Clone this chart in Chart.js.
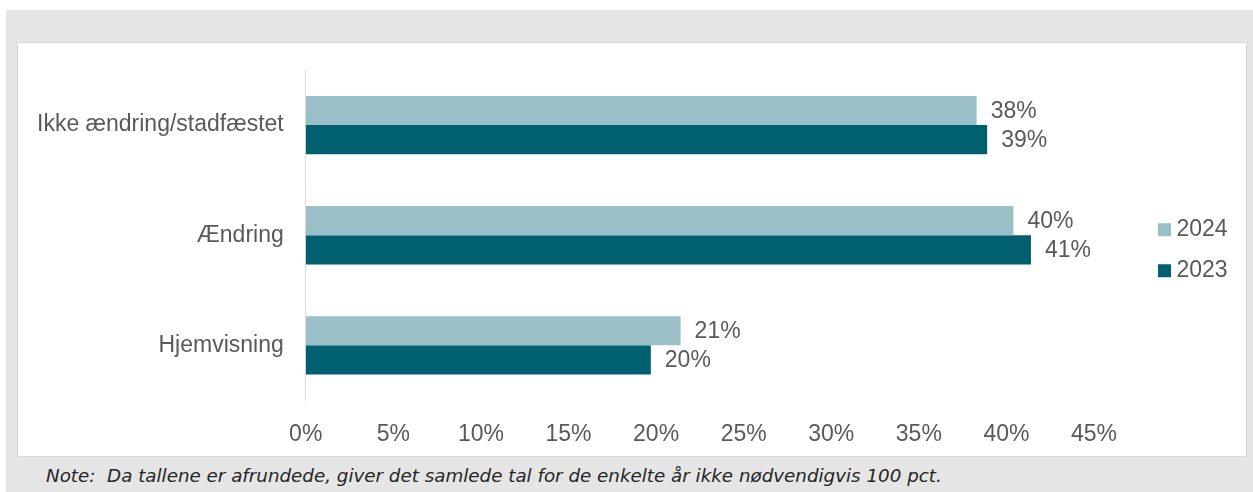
<!doctype html>
<html lang="da">
<head>
  <meta charset="utf-8">
  <title>Afgørelser</title>
  <style>
    html, body { margin: 0; padding: 0; background: #fff; }
    #frame { position: absolute; left: 6px; top: 10px; width: 1247px; height: 482px; background: #e5e5e5; }
    #panel { position: absolute; left: 17px; top: 42px; width: 1230px; height: 415px; background: #fff; border: 1px solid #d6d6d6; box-sizing: border-box; overflow: hidden; }
    #panel canvas { position: absolute; left: 0; top: 0; }
    #note { position: absolute; left: 46px; top: 467px; font: italic 18.3px "DejaVu Sans", Verdana, sans-serif; line-height: 18px; color: #262626; white-space: pre; }
  </style>
</head>
<body>
  <div id="frame"></div>
  <div id="panel"><canvas id="chart" width="1230" height="431"></canvas></div>
  <div id="note">Note:  Da tallene er afrundede, giver det samlede tal for de enkelte år ikke nødvendigvis 100 pct.</div>
  <script src="https://cdn.jsdelivr.net/npm/chart.js"></script>
  <script>
    const categories = ['Ikke ændring/stadfæstet', 'Ændring', 'Hjemvisning'];
    const values2024 = [38.3, 40.4, 21.4];
    const values2023 = [38.9, 41.4, 19.7];
    const xTicks = [0, 5, 10, 15, 20, 25, 30, 35, 40, 45];

    const LIGHT = '#9abfc6';
    const DARK = '#00606f';
    const TEXT = '#595959';
    const FONT = { family: '"Liberation Sans", Arial, sans-serif', size: 23 };
    const LEGEND_SPACE = 154;

    // value labels to the right of every bar
    const barLabels = {
      id: 'barLabels',
      afterDatasetsDraw(chart) {
        const ctx = chart.ctx;
        ctx.save();
        ctx.font = `${FONT.size}px ${FONT.family}`;
        ctx.fillStyle = TEXT;
        ctx.textAlign = 'left';
        ctx.textBaseline = 'middle';
        chart.data.datasets.forEach((ds, i) => {
          chart.getDatasetMeta(i).data.forEach((bar, j) => {
            ctx.fillText(Math.round(ds.data[j]) + '%', bar.x + 14, bar.y + 1);
          });
        });
        ctx.restore();
      }
    };

    // legend reserves a fixed strip on the right and sits a bit away from the plot
    const legendPlace = {
      id: 'legendPlace',
      beforeInit(chart) {
        const lg = chart.legend;
        const fit = lg.fit;
        lg.fit = function () { fit.call(this); this._realWidth = this.width; this.width = LEGEND_SPACE; };
      },
      afterLayout(chart) {
        const lg = chart.legend, area = chart.chartArea;
        lg.left = area.right + 52;
        lg.width = lg._realWidth;
        lg.right = lg.left + lg.width;
        lg.top += 15; lg.bottom += 15;
      }
    };

    new Chart(document.getElementById('chart'), {
      type: 'bar',
      data: {
        labels: categories,
        datasets: [
          { label: '2024', data: values2024, backgroundColor: LIGHT },
          { label: '2023', data: values2023, backgroundColor: DARK }
        ]
      },
      options: {
        indexAxis: 'y',
        responsive: false,
        animation: false,
        barPercentage: 1,
        categoryPercentage: 0.53,
        layout: { padding: { left: -3, top: 27, right: 0, bottom: 6 } },
        plugins: {
          tooltip: { enabled: false },
          legend: {
            position: 'right',
            fullSize: false,
            labels: {
              usePointStyle: true, pointStyle: 'rect',
              boxWidth: 1, boxHeight: 13, padding: 18,
              color: TEXT, font: FONT
            }
          }
        },
        scales: {
          x: {
            min: 0,
            max: 45,
            afterBuildTicks(axis) { axis.ticks = xTicks.map(v => ({ value: v })); },
            grid: { display: false, drawTicks: false },
            border: { display: false },
            ticks: { color: TEXT, font: FONT, padding: 20, callback: v => v + '%' }
          },
          y: {
            afterFit(axis) { axis.paddingTop = 0; axis.paddingBottom = 0; },
            grid: { display: false, drawTicks: false },
            border: { display: true, color: '#dcdcdc', width: 1 },
            ticks: { color: TEXT, font: FONT, padding: 22 }
          }
        }
      },
      plugins: [barLabels, legendPlace]
    });
  </script>
</body>
</html>
